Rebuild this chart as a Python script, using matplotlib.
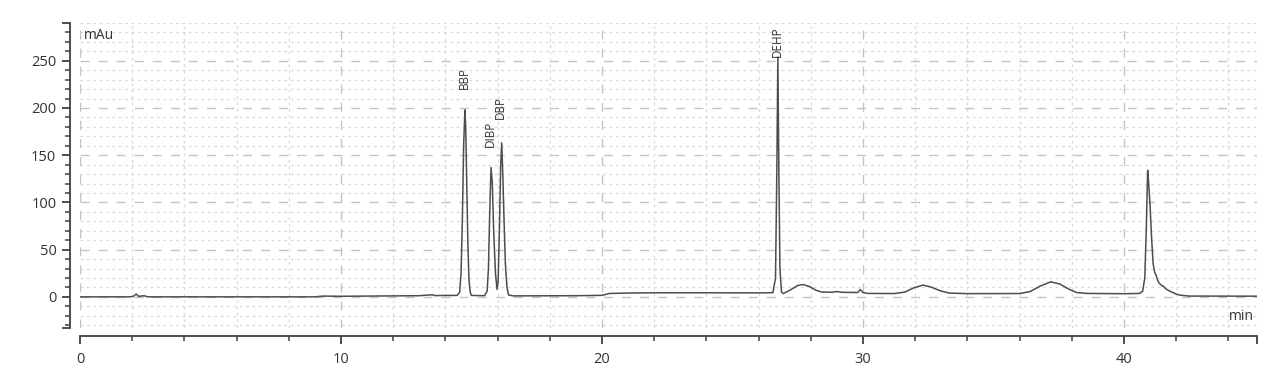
import matplotlib
matplotlib.use("Agg")
import matplotlib.pyplot as plt
from matplotlib.ticker import FixedLocator, FuncFormatter

plt.rcParams['font.family'] = ['Open Sans', 'DejaVu Sans']

# Chromatogram trace (time in min, signal in mAu)
time_min = [
    0.0, 1.9, 2.05, 2.15, 2.25, 2.35, 2.45, 2.6, 9.0, 9.3, 10.0, 11.0, 12.0,
    13.0, 13.5, 13.6, 14.0, 14.45, 14.55, 14.6, 14.65, 14.7, 14.75, 14.78,
    14.82, 14.86, 14.9, 14.95, 15.0, 15.5, 15.6, 15.65, 15.7, 15.75, 15.8,
    15.85, 15.92, 15.98, 16.02, 16.07, 16.12, 16.16, 16.2, 16.25, 16.3,
    16.36, 16.42, 16.6, 19.0, 20.0, 20.3, 21.0, 22.0, 24.0, 26.0, 26.55,
    26.65, 26.7, 26.74, 26.78, 26.82, 26.88, 26.95, 27.2, 27.5, 27.7, 27.95,
    28.2, 28.4, 28.8, 29.0, 29.2, 29.8, 29.9, 30.0, 30.2, 31.2, 31.6, 31.95,
    32.3, 32.6, 32.95, 33.3, 34.0, 36.0, 36.4, 36.8, 37.2, 37.55, 37.9,
    38.2, 38.6, 40.0, 40.6, 40.72, 40.8, 40.86, 40.91, 40.95, 41.0, 41.06,
    41.12, 41.18, 41.23, 41.3, 41.35, 41.45, 41.51, 41.6, 41.76, 42.0,
    42.15, 42.5, 45.1,
]
signal_mau = [
    0.0, 0.0, 0.5, 3.0, 0.5, 0.8, 1.2, 0.0, 0.0, 0.8, 0.6, 0.8, 1.0,
    1.2, 2.2, 1.3, 1.5, 1.5, 5.0, 25.0, 80.0, 160.0, 198.0, 180.0,
    120.0, 60.0, 20.0, 5.0, 1.5, 1.2, 6.0, 30.0, 90.0, 137.0, 120.0,
    70.0, 25.0, 8.0, 15.0, 70.0, 140.0, 163.0, 130.0, 80.0, 35.0,
    10.0, 2.0, 1.0, 1.2, 1.6, 3.6, 4.0, 4.3, 4.3, 4.2, 4.4,
    20.0, 130.0, 254.0, 130.0, 30.0, 5.0, 3.5, 7.0, 12.0, 13.0, 11.0,
    7.0, 5.2, 4.8, 5.6, 4.8, 4.6, 7.8, 4.5, 3.6, 3.5, 5.0, 9.5,
    12.4, 10.5, 6.5, 4.0, 3.4, 3.5, 5.5, 11.5, 15.9, 13.5, 8.0,
    4.5, 3.6, 3.3, 3.6, 6.0, 20.0, 74.0, 134.0, 120.0, 98.0, 63.0,
    35.0, 26.0, 23.0, 17.0, 14.5, 12.0, 11.3, 8.5, 6.0, 3.0,
    1.8, 0.8, 0.7,
]

# Peak labels
peak_names = ['BBP', 'DIBP', 'DBP', 'DEHP']
peak_label_x = [14.71, 15.71, 16.12, 26.72]
peak_label_y = [220, 159, 188, 254]

x_major = [0, 10, 20, 30, 40]
y_major = [0, 50, 100, 150, 200, 250]
x_lim = (0, 45.1)
y_lim = (-33, 290)

fig = plt.figure(figsize=(12.8, 3.77), dpi=100)
ax = fig.add_axes([80 / 1280, 1 - 328 / 377, (1257 - 80) / 1280, (328 - 23) / 377])
ax.set_xlim(*x_lim)
ax.set_ylim(*y_lim)

# grid
minor_c = '#d9d9d9'
major_c = '#c4c4c4'
for v in range(-30, 291, 10):
    if v % 50 != 0:
        ax.axhline(v, color=minor_c, lw=0.9, dashes=(2.2, 2.9), zorder=0)
for v in range(2, 45, 2):
    if v % 10 != 0:
        ax.axvline(v, color=minor_c, lw=0.9, dashes=(2.2, 2.9), zorder=0)
for v in y_major:
    ax.axhline(v, color=major_c, lw=1.0, dashes=(6.5, 6.5), zorder=0)
for v in x_major:
    ax.axvline(v, color=major_c, lw=1.0, dashes=(6.5, 6.5), zorder=0)

ax.plot(time_min, signal_mau, color='#4d4d4d', lw=1.1, zorder=3)

for name, px, py in zip(peak_names, peak_label_x, peak_label_y):
    ax.text(px, py, name, rotation=90, ha='center', va='bottom',
            fontsize=8.5, color='#333333', zorder=4)

# spines
for s in ('top', 'right'):
    ax.spines[s].set_visible(False)
ax.spines['left'].set_position(('outward', 7))
ax.spines['bottom'].set_position(('outward', 6))
for s in ('left', 'bottom'):
    ax.spines[s].set_color('#404040')
    ax.spines[s].set_linewidth(1.3)

# ticks (end caps included as unlabeled major ticks)
ax.yaxis.set_major_locator(FixedLocator([y_lim[0]] + y_major + [y_lim[1]]))
ax.yaxis.set_minor_locator(FixedLocator([v for v in range(-30, 290, 10) if v % 50 != 0]))
ax.yaxis.set_major_formatter(FuncFormatter(lambda v, p: f'{v:.0f}' if v in y_major else ''))
ax.xaxis.set_major_locator(FixedLocator(x_major + [x_lim[1]]))
ax.xaxis.set_minor_locator(FixedLocator([v for v in range(2, 45, 2) if v % 10 != 0]))
ax.xaxis.set_major_formatter(FuncFormatter(lambda v, p: f'{v:.0f}' if v in x_major else ''))
ax.tick_params(which='major', length=6, width=1.3, color='#404040',
               labelsize=10.5, labelcolor='#333333')
ax.tick_params(which='minor', length=3.6, width=1.1, color='#404040')
ax.tick_params(axis='y', which='major', pad=4)
ax.tick_params(axis='x', which='major', pad=5)

ax.text(0.003, 0.985, 'mAu', transform=ax.transAxes, ha='left', va='top',
        fontsize=10, color='#333333')
ax.text(0.997, 0.012, 'min', transform=ax.transAxes, ha='right', va='bottom',
        fontsize=10, color='#333333')

fig.savefig('out.png', dpi=100, facecolor='white')
